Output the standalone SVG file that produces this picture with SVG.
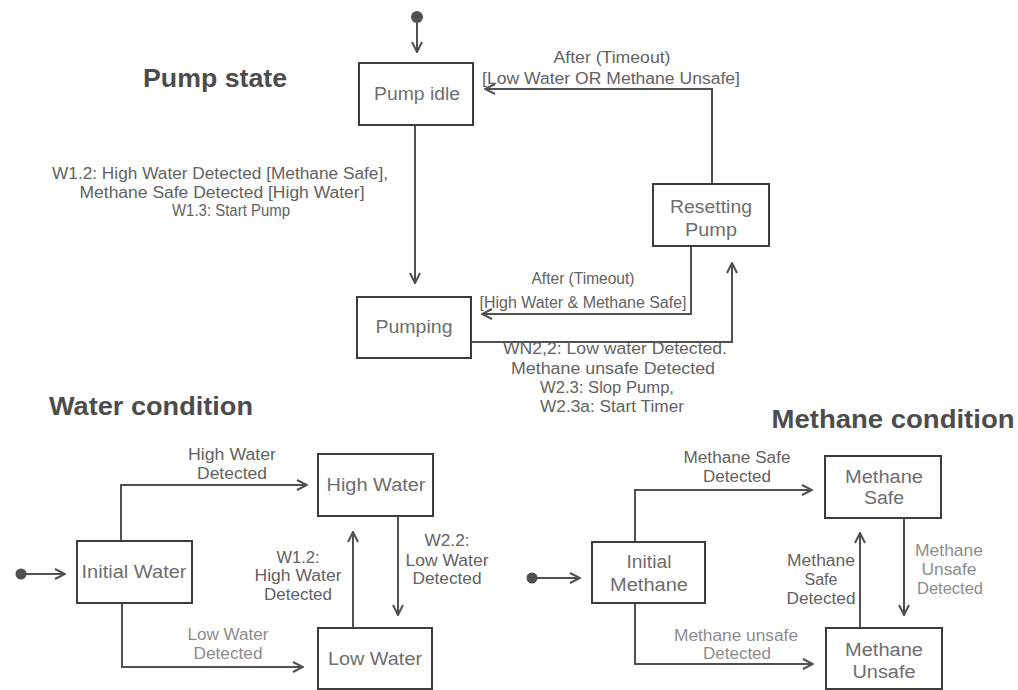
<svg xmlns="http://www.w3.org/2000/svg" width="1018" height="690" viewBox="0 0 1018 690">
  <style>
    .box { fill: #ffffff; stroke: #3c3c3c; stroke-width: 2; }
    .edge { fill: none; stroke: #505050; stroke-width: 2; marker-end: url(#arrow); }
    .start { fill: #505050; }
    text { font-family: "Liberation Sans", Arial, sans-serif; text-anchor: middle; }
    .title { font-size: 25px; font-weight: bold; fill: #4c4c4c; }
    .state { font-size: 18px; fill: #6e6e6e; }
    .lbl { font-size: 16px; fill: #626262; }
    .lbl.faint { fill: #8c8c8c; }
  </style>
  <defs>
    <marker id="arrow" viewBox="0 0 12 12" refX="11" refY="6" markerWidth="12" markerHeight="12" markerUnits="userSpaceOnUse" orient="auto">
      <path d="M1,1 L11,6 L1,11" fill="none" stroke="#505050" stroke-width="2"/>
    </marker>
  </defs>
  <rect width="1018" height="690" fill="#ffffff"/>

  <!-- section titles -->
  <text class="title" x="215" y="87" textLength="144" lengthAdjust="spacingAndGlyphs">Pump state</text>
  <text class="title" x="151" y="415" textLength="204" lengthAdjust="spacingAndGlyphs">Water condition</text>
  <text class="title" x="893" y="428" textLength="243" lengthAdjust="spacingAndGlyphs">Methane condition</text>

  <!-- transitions -->
  <g id="connectors">
    <!-- pump state machine -->
    <circle class="start" cx="417" cy="17" r="6"/>
    <path class="edge" d="M417,23 L417,52"/>
    <path class="edge" d="M415,125 L415,283"/>
    <path class="edge" d="M712,184 L712,89 L485,89"/>
    <path class="edge" d="M691,246 L691,314 L482,314"/>
    <path class="edge" d="M471,342 L732,342 L732,263"/>
    <!-- water condition -->
    <circle class="start" cx="21" cy="574" r="5.5"/>
    <path class="edge" d="M26,574 L65,574"/>
    <path class="edge" d="M121,541 L121,485 L307,485"/>
    <path class="edge" d="M122,603 L122,667 L303,667"/>
    <path class="edge" d="M353,628 L353,532"/>
    <path class="edge" d="M398,516 L398,615"/>
    <!-- methane condition -->
    <circle class="start" cx="532" cy="578" r="5.5"/>
    <path class="edge" d="M537,578 L580,578"/>
    <path class="edge" d="M635,542 L635,490 L812,490"/>
    <path class="edge" d="M635,603 L635,664 L813,664"/>
    <path class="edge" d="M860,628 L860,533"/>
    <path class="edge" d="M904,518 L904,615"/>

    <!-- transition labels -->
    <text class="lbl" x="612" y="63" textLength="117" lengthAdjust="spacingAndGlyphs">After (Timeout)</text>
    <text class="lbl" x="611" y="84" textLength="258" lengthAdjust="spacingAndGlyphs">[Low Water OR Methane Unsafe]</text>

    <text class="lbl" x="220" y="179" textLength="336" lengthAdjust="spacingAndGlyphs">W1.2: High Water Detected [Methane Safe],</text>
    <text class="lbl" x="222" y="198" textLength="285" lengthAdjust="spacingAndGlyphs">Methane Safe Detected [High Water]</text>
    <text class="lbl" x="231" y="216" textLength="118" lengthAdjust="spacingAndGlyphs">W1.3: Start Pump</text>

    <text class="lbl" x="583" y="284" textLength="103" lengthAdjust="spacingAndGlyphs">After (Timeout)</text>
    <text class="lbl" x="583" y="308" textLength="207" lengthAdjust="spacingAndGlyphs">[High Water &amp; Methane Safe]</text>

    <text class="lbl" x="615" y="354" textLength="224" lengthAdjust="spacingAndGlyphs">WN2,2: Low water Detected.</text>
    <text class="lbl" x="613" y="374" textLength="204" lengthAdjust="spacingAndGlyphs">Methane unsafe Detected</text>
    <text class="lbl" x="607" y="393" textLength="134" lengthAdjust="spacingAndGlyphs">W2.3: Slop Pump,</text>
    <text class="lbl" x="612" y="412" textLength="144" lengthAdjust="spacingAndGlyphs">W2.3a: Start Timer</text>

    <text class="lbl" x="232" y="460" textLength="88" lengthAdjust="spacingAndGlyphs">High Water</text>
    <text class="lbl" x="232" y="479" textLength="70" lengthAdjust="spacingAndGlyphs">Detected</text>
    <text class="lbl faint" x="228" y="640" textLength="81" lengthAdjust="spacingAndGlyphs">Low Water</text>
    <text class="lbl faint" x="228" y="659" textLength="69" lengthAdjust="spacingAndGlyphs">Detected</text>
    <text class="lbl" x="298" y="563" textLength="43" lengthAdjust="spacingAndGlyphs">W1.2:</text>
    <text class="lbl" x="298" y="581" textLength="87" lengthAdjust="spacingAndGlyphs">High Water</text>
    <text class="lbl" x="298" y="600" textLength="68" lengthAdjust="spacingAndGlyphs">Detected</text>
    <text class="lbl" x="447" y="546" textLength="45" lengthAdjust="spacingAndGlyphs">W2.2:</text>
    <text class="lbl" x="447" y="566" textLength="83" lengthAdjust="spacingAndGlyphs">Low Water</text>
    <text class="lbl" x="447" y="584" textLength="69" lengthAdjust="spacingAndGlyphs">Detected</text>

    <text class="lbl" x="737" y="463" textLength="107" lengthAdjust="spacingAndGlyphs">Methane Safe</text>
    <text class="lbl" x="737" y="482" textLength="68" lengthAdjust="spacingAndGlyphs">Detected</text>
    <text class="lbl faint" x="736" y="641" textLength="124" lengthAdjust="spacingAndGlyphs">Methane unsafe</text>
    <text class="lbl faint" x="737" y="659" textLength="68" lengthAdjust="spacingAndGlyphs">Detected</text>
    <text class="lbl" x="821" y="566" textLength="68" lengthAdjust="spacingAndGlyphs">Methane</text>
    <text class="lbl" x="821" y="585" textLength="33" lengthAdjust="spacingAndGlyphs">Safe</text>
    <text class="lbl" x="821" y="604" textLength="69" lengthAdjust="spacingAndGlyphs">Detected</text>
    <text class="lbl faint" x="949" y="556" textLength="68" lengthAdjust="spacingAndGlyphs">Methane</text>
    <text class="lbl faint" x="949" y="575" textLength="55" lengthAdjust="spacingAndGlyphs">Unsafe</text>
    <text class="lbl faint" x="950" y="594" textLength="66" lengthAdjust="spacingAndGlyphs">Detected</text>
  </g>

  <!-- pump states -->
  <g id="pump-idle">
    <rect class="box" x="359" y="63" width="114" height="62"/>
    <text class="state" x="417" y="100" textLength="86" lengthAdjust="spacingAndGlyphs">Pump idle</text>
  </g>
  <g id="pumping">
    <rect class="box" x="357" y="297" width="114" height="61"/>
    <text class="state" x="414" y="333" textLength="77" lengthAdjust="spacingAndGlyphs">Pumping</text>
  </g>
  <g id="resetting-pump">
    <rect class="box" x="653" y="184" width="116" height="62"/>
    <text class="state" x="711" y="213" textLength="82" lengthAdjust="spacingAndGlyphs">Resetting</text>
    <text class="state" x="711" y="236" textLength="52" lengthAdjust="spacingAndGlyphs">Pump</text>
  </g>

  <!-- water states -->
  <g id="initial-water">
    <rect class="box" x="77" y="541" width="115" height="62"/>
    <text class="state" x="134" y="578" textLength="105" lengthAdjust="spacingAndGlyphs">Initial Water</text>
  </g>
  <g id="high-water">
    <rect class="box" x="318" y="454" width="115" height="62"/>
    <text class="state" x="376" y="491" textLength="99" lengthAdjust="spacingAndGlyphs">High Water</text>
  </g>
  <g id="low-water">
    <rect class="box" x="318" y="628" width="114" height="61"/>
    <text class="state" x="375" y="665" textLength="94" lengthAdjust="spacingAndGlyphs">Low Water</text>
  </g>

  <!-- methane states -->
  <g id="initial-methane">
    <rect class="box" x="592" y="542" width="113" height="61"/>
    <text class="state" x="649" y="568" textLength="45" lengthAdjust="spacingAndGlyphs">Initial</text>
    <text class="state" x="649" y="591" textLength="78" lengthAdjust="spacingAndGlyphs">Methane</text>
  </g>
  <g id="methane-safe">
    <rect class="box" x="825" y="456" width="116" height="62"/>
    <text class="state" x="884" y="483" textLength="78" lengthAdjust="spacingAndGlyphs">Methane</text>
    <text class="state" x="884" y="504" textLength="40" lengthAdjust="spacingAndGlyphs">Safe</text>
  </g>
  <g id="methane-unsafe">
    <rect class="box" x="826" y="628" width="116" height="61"/>
    <text class="state" x="884" y="656" textLength="78" lengthAdjust="spacingAndGlyphs">Methane</text>
    <text class="state" x="884" y="678" textLength="63" lengthAdjust="spacingAndGlyphs">Unsafe</text>
  </g>
</svg>
